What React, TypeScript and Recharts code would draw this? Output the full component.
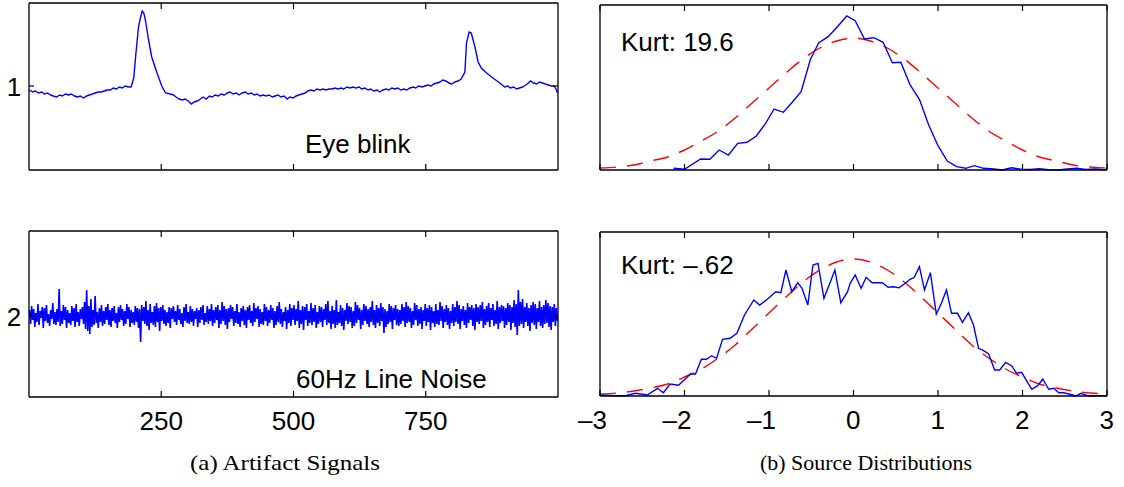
import React from 'react';
import { LineChart, Line, XAxis, YAxis } from 'recharts';

// eye blink channel, [sample, amplitude]
const eyeBlink: [number, number][] = [
  [1, -4], [7, -6], [12, -5], [18, -7], [24, -6], [29, -8], [35, -7], [41, -9], [46, -10], [52, -11],
  [58, -9], [63, -10], [69, -8], [75, -9], [80, -8], [86, -10], [92, -11], [97, -10], [103, -12], [109, -10],
  [114, -9], [120, -8], [125, -7], [131, -6], [137, -6], [142, -5], [148, -4], [154, -4], [159, -2], [165, -3],
  [171, -1], [176, -2], [182, 0], [188, -1], [193, -1],
  [198, 8], [202, 32], [207, 59], [211, 69], [214, 75], [217, 73], [220, 66], [226, 46], [232, 29], [242, 13],
  [251, 0], [258, -7],
  [267, -8], [273, -9], [278, -11], [284, -13], [290, -14], [295, -13], [301, -15], [307, -18], [312, -16], [318, -15],
  [324, -13], [329, -11], [335, -13], [341, -10], [346, -11], [352, -9], [358, -10], [363, -8], [369, -9], [375, -7],
  [380, -6], [386, -8], [392, -7], [397, -9], [403, -7], [409, -6], [414, -8], [420, -7], [426, -9], [431, -8],
  [437, -10], [443, -9], [448, -10], [454, -9], [460, -11], [465, -10], [471, -9], [476, -11], [482, -10], [488, -13],
  [493, -11], [499, -12], [505, -10], [510, -9], [516, -8], [522, -7], [527, -5], [533, -4], [539, -5], [544, -3],
  [550, -4], [556, -3], [561, -4], [567, -3], [573, -3], [578, -2], [584, -3], [590, -2], [595, -3], [601, -1],
  [607, -2], [612, -1], [618, -2], [624, -1], [629, -3], [635, -2], [641, -4], [646, -3], [652, -5], [658, -4],
  [663, -6], [669, -4], [675, -3], [680, -4], [686, -2], [692, -3], [697, -2], [703, -4], [709, -3], [714, -4],
  [720, -2], [726, -1], [731, -2], [737, 0], [743, -1], [748, 0], [754, 1], [760, 0], [765, 2], [771, 3],
  [777, 4], [782, 6], [788, 5], [794, 3], [799, 2], [805, 4], [811, 5], [817, 7],
  [824, 14], [827, 43], [832, 54], [836, 53], [843, 39], [849, 24], [855, 18], [865, 13], [877, 8], [890, 3],
  [899, -1], [905, 0], [910, -2], [916, -1], [922, -3], [927, -2], [933, -1], [939, 1], [944, 3], [948, 5],
  [954, 3], [960, 2], [965, 4], [971, 3], [976, 2], [982, 1], [988, 0], [993, 0], [997, -4], [999, -7],
];

// 60Hz line noise channel, one value every 2 samples
const lineNoise = [
  6, -8, 10, -4, 7, -11, 3, -6, 12, -9, 5, -2, 9, -12, 8, -5, 11, -7, 2, -10, 6, -3, 13, -8, 4,
  -9, 7, -6, 27, -10, 5, -8, 11, -4, 9, -12, 6, -7, 3, -9, 10, -5, 8, -11, 12, -6, 4, -10, 7, -3,
  9, -8, 14, -13, 26, -15, 10, -18, 17, -11, 6, -9, 20, -7, 4, -12, 8, -6, 11, -10, 5, -8, 9, -4, 12,
  -9, 6, -11, 8, -5, 10, -7, 3, -12, 9, -6, 11, -4, 7, -10, 5, -8, 12, -3, 9, -11, 6, -7, 4, -9,
  10, -6, 8, -12, 7, -26, 11, -5, 9, -8, 15, -10, 6, -14, 12, -7, 4, -9, 10, -11, 13, -6, 8, -15, 9,
  -5, 11, -8, 6, -10, 4, -7, 9, -12, 8, -3, 10, -6, 5, -9, 11, -4, 7, -8, 3, -11, 9, -5, 12, -7,
  4, -8, 10, -6, 7, -10, 5, -3, 8, -11, 6, -7, 9, -4, 11, -9, 3, -6, 10, -8, 7, -5, 12, -10, 6,
  -7, 9, -4, 11, -12, 6, -8, 14, -5, 10, -9, 7, -13, 8, -6, 11, -3, 9, -10, 5, -7, 12, -8, 4, -11,
  8, -5, 10, -9, 6, -12, 9, -4, 11, -7, 5, -10, 13, -6, 8, -3, 10, -11, 7, -8, 4, -9, 12, -5, 9,
  -10, 6, -7, 11, -4, 8, -12, 5, -9, 10, -6, 14, -8, 7, -11, 4, -5, 9, -13, 6, -7, 12, -10, 8, -4,
  11, -9, 7, -5, 15, -12, 6, -8, 10, -14, 9, -4, 12, -10, 5, -7, 13, -9, 8, -6, 11, -12, 4, -8, 10,
  -6, 9, -11, 7, -4, 12, -9, 15, -7, 5, -13, 10, -8, 6, -12, 16, -9, 4, -7, 11, -10, 8, -14, 6, -5,
  13, -8, 10, -6, 9, -12, 5, -10, 14, -7, 11, -4, 8, -13, 6, -9, 12, -5, 10, -8, 7, -11, 9, -6, 15,
  -9, 6, -12, 11, -7, 8, -10, 13, -5, 9, -17, 7, -11, 5, -8, 12, -6, 10, -13, 8, -4, 11, -9, 7, -10,
  6, -8, 12, -5, 9, -11, 14, -7, 10, -6, 8, -12, 5, -9, 13, -4, 11, -10, 7, -8, 9, -13, 6, -5, 12,
  -10, 8, -6, 11, -14, 9, -7, 5, -11, 12, -8, 6, -9, 14, -5, 10, -12, 7, -6, 11, -9, 8, -13, 5, -7,
  12, -10, 9, -6, 15, -8, 11, -13, 7, -5, 10, -9, 6, -12, 13, -7, 9, -4, 11, -10, 8, -14, 12, -6, 9,
  -8, 11, -5, 14, -12, 7, -9, 10, -6, 13, -11, 8, -4, 12, -10, 6, -8, 15, -13, 9, -7, 11, -5, 10, -12,
  8, -9, 13, -6, 11, -14, 9, -7, 16, -11, 12, -19, 26, -10, 14, -8, 17, -12, 9, -6, 13, -10, 8, -15, 11,
  -7, 14, -9, 12, -13, 8, -6, 15, -10, 9, -12, 11, -8, 16, -7, 13, -11, 10, -14, 9, -6, 12, -10, 8, -5,
];

// source histograms
const kurtHighX = [
  -2.13, -2.0, -1.81, -1.7, -1.59, -1.48, -1.37, -1.26, -1.15, -1.04,
  -0.94, -0.83, -0.73, -0.62, -0.51, -0.41, -0.3, -0.19, -0.08, 0.02,
  0.13, 0.24, 0.35, 0.46, 0.56, 0.67, 0.78, 0.89, 1.0, 1.11,
  1.22, 1.33, 1.43, 1.54, 1.66, 1.76, 1.87, 1.98, 2.09, 2.2,
  2.31, 2.42, 2.53, 2.64, 2.75, 2.86, 2.97, 3.0,
];
const kurtHighY = [
  1.7, 0.7, 11, 10.7, 20, 15, 26.7, 27.7, 34, 46.7,
  61, 57.7, 67.3, 78.3, 110.7, 127.3, 133.3, 143.3, 154, 149.3,
  131, 132.3, 127.7, 107.3, 107.7, 85, 70.7, 45, 24.3, 9,
  3.3, 1.7, 4.3, 1.7, 1, 0, 2.3, 0.7, 0.5, 1.3,
  0.3, 0, 1, 1.7, 0.5, 1, 0.3, 1,
];
const kurtLowX = [
  -2.99, -2.82, -2.7, -2.58, -2.44, -2.32, -2.25, -2.17, -2.07, -1.93,
  -1.87, -1.8, -1.74, -1.68, -1.62, -1.55, -1.46, -1.38, -1.29, -1.18,
  -1.11, -1.02, -0.92, -0.86, -0.8, -0.73, -0.66, -0.61, -0.54, -0.48,
  -0.42, -0.35, -0.28, -0.22, -0.15, -0.07, -0.04, 0.02, 0.09, 0.15,
  0.22, 0.34, 0.41, 0.47, 0.54, 0.62, 0.67, 0.72, 0.78, 0.84,
  0.91, 0.98, 1.04, 1.1, 1.16, 1.23, 1.29, 1.36, 1.42, 1.48,
  1.54, 1.6, 1.67, 1.73, 1.8, 1.87, 1.93, 1.99, 2.06, 2.11,
  2.18, 2.24, 2.31, 2.37, 2.43, 2.49, 2.56, 2.63, 2.69, 2.77,
  3.0,
];
const kurtLowY = [
  1, 0.3, 0.3, 2.7, 1, 7.7, 3.3, 12, 10.7, 22,
  22, 36.7, 36.7, 40.3, 37.7, 56.7, 57.7, 62.7, 81, 96,
  91, 96.7, 104.3, 103.3, 126, 104.3, 113.3, 107.7, 91, 131,
  132.7, 97.7, 112.7, 126, 93.3, 104.3, 112.7, 121, 107.7, 118.7,
  113.3, 113.3, 108.7, 109.3, 108.3, 113.3, 116.7, 118.7, 129.3, 106,
  123.3, 82, 92.7, 106, 82.7, 82.7, 73.7, 83.3, 71, 47.7,
  45.3, 42, 26, 26, 33.7, 30.3, 22.7, 23.7, 13.7, 6.7,
  10.3, 17, 6.7, 7.7, 3.3, 3.3, 1.7, 0, 2.7, 0.3,
  0.3,
];

// fitted normal curves (red dashed)
const gaussX = [
  -3, -2.8, -2.6, -2.4, -2.2, -2, -1.8, -1.6, -1.4, -1.2, -1, -0.8, -0.6, -0.4, -0.2, 0,
  0.2, 0.4, 0.6, 0.8, 1, 1.2, 1.4, 1.6, 1.8, 2, 2.2, 2.4, 2.6, 2.8, 3,
];
const gaussHighY = [
  2, 3, 5, 9, 13, 20, 29, 39, 52, 67, 82, 97, 111, 122, 129, 132,
  129, 122, 111, 97, 82, 67, 52, 39, 29, 20, 13, 9, 5, 3, 2,
];
const gaussLowY = [
  2, 3, 5, 8, 12, 19, 27, 38, 51, 67, 83, 99, 114, 126, 134, 137,
  134, 126, 114, 99, 83, 67, 51, 38, 27, 19, 12, 8, 5, 3, 2,
];

const signalTicks = [250, 500, 750];
const distTicks = [-3, -2, -1, 0, 1, 2, 3];
const channelNames = ['1', '2'];

const FONT = '"Liberation Sans", Arial, Helvetica, sans-serif';
const SERIF = '"Liberation Serif", "Times New Roman", serif';
const BLUE = '#0000ff';
const RED = '#ff0000';
const frame = { stroke: '#000', strokeWidth: 1.3 };
const tickLn = { stroke: '#000', strokeWidth: 1.2 };

const blinkData = eyeBlink.map(([t, v]) => ({ t, v }));
const noiseData = lineNoise.map((v, i) => ({ t: i * 2 + 1, v }));
const zip = (xs: number[], ys: number[]) => xs.map((x, i) => ({ x, y: ys[i] }));
const highData = zip(kurtHighX, kurtHighY);
const lowData = zip(kurtLowX, kurtLowY);
const gaussHigh = zip(gaussX, gaussHighY);
const gaussLow = zip(gaussX, gaussLowY);

const NoTick = () => <g />;

const SignalTick = ({ x, y, payload }: any) => (
  <text x={x} y={y + 33} textAnchor="middle" fontSize={26} fontFamily={FONT} fill="#000">
    {payload.value}
  </text>
);

const DistTick = ({ x, y, payload }: any) => {
  const v = payload.value;
  const label = v < 0 ? '\u2013' + -v : String(v);
  return (
    <text x={x + 7} y={y + 33} textAnchor="end" fontSize={26} fontFamily={FONT} fill="#000">
      {label}
    </text>
  );
};

const channelTick = (name: string) => ({ x, y }: any) => (
  <text x={x} y={y + 10} textAnchor="middle" fontSize={26} fontFamily={FONT} fill="#000">
    {name}
  </text>
);

// one panel of the left column (time series)
const SignalPanel = ({ data, top, domain, name, labels, width }: any) => (
  <div style={{ position: 'absolute', left: 0, top }}>
    <LineChart width={562} height={labels ? 214 : 174} data={data} margin={{ top: 0, right: 0, bottom: 0, left: 0 }}>
      <XAxis xAxisId="b" dataKey="t" type="number" domain={[0, 1000]} ticks={signalTicks} interval={0}
        height={labels ? 45 : 4} axisLine={frame} tickLine={tickLn} tickSize={-6} tickMargin={6}
        tick={labels ? SignalTick : NoTick} />
      <XAxis xAxisId="t" orientation="top" dataKey="t" type="number" domain={[0, 1000]} ticks={signalTicks}
        interval={0} height={3} axisLine={frame} tickLine={tickLn} tickSize={-6} tick={NoTick} />
      <YAxis yAxisId="l" dataKey="v" type="number" domain={domain} ticks={[0]} width={29} axisLine={frame}
        tickLine={tickLn} tickSize={-5} tickMargin={20} tick={channelTick(name)} />
      <YAxis yAxisId="r" orientation="right" dataKey="v" type="number" domain={domain} ticks={[0]} width={4}
        axisLine={frame} tickLine={tickLn} tickSize={-5} tick={NoTick} />
      <Line xAxisId="b" yAxisId="l" dataKey="v" type="linear" stroke={BLUE} strokeWidth={width} dot={false}
        isAnimationActive={false} />
      <Line xAxisId="t" yAxisId="r" dataKey="v" type="linear" stroke="none" dot={false} isAnimationActive={false} />
    </LineChart>
  </div>
);

// one panel of the right column (distribution vs normal fit)
const DistPanel = ({ hist, fit, top, ymax, labels }: any) => (
  <div style={{ position: 'absolute', left: 570, top }}>
    <LineChart width={549} height={labels ? 212 : 172} margin={{ top: 0, right: 0, bottom: 0, left: 0 }}>
      <XAxis xAxisId="b" dataKey="x" type="number" domain={[-3, 3]} ticks={distTicks} interval={0}
        height={labels ? 45 : 4} axisLine={frame} tickLine={tickLn} tickSize={-6} tickMargin={6}
        tick={labels ? DistTick : NoTick} />
      <XAxis xAxisId="t" orientation="top" dataKey="x" type="number" domain={[-3, 3]} ticks={distTicks}
        interval={0} height={3} axisLine={frame} tickLine={tickLn} tickSize={-6} tick={NoTick} />
      <YAxis yAxisId="l" dataKey="y" type="number" domain={[0, ymax]} width={30} axisLine={frame}
        tickLine={false} tick={false} />
      <YAxis yAxisId="r" orientation="right" dataKey="y" type="number" domain={[0, ymax]} width={12}
        axisLine={frame} tickLine={false} tick={false} />
      <Line data={fit} xAxisId="b" yAxisId="l" dataKey="y" type="monotone" stroke={RED} strokeWidth={1.4}
        strokeDasharray="16 11" dot={false} isAnimationActive={false} />
      <Line data={hist} xAxisId="b" yAxisId="l" dataKey="y" type="linear" stroke={BLUE} strokeWidth={1.4}
        dot={false} isAnimationActive={false} />
      <Line data={hist} xAxisId="t" yAxisId="r" dataKey="y" type="linear" stroke="none" dot={false}
        isAnimationActive={false} />
    </LineChart>
  </div>
);

const txt = { fontSize: 26, fontFamily: FONT, fill: '#000' };
const cap = { fontSize: 21, fontFamily: SERIF, fill: '#000', lengthAdjust: 'spacingAndGlyphs' as const };

export default function App() {
  return (
    <div style={{ position: 'absolute', left: 0, top: 0, width: 1124, height: 487, background: '#fff' }}>
      <SignalPanel data={blinkData} top={0} domain={[-84, 83]} name={channelNames[0]} labels={false} width={1.4} />
      <SignalPanel data={noiseData} top={228} domain={[-81, 85]} name={channelNames[1]} labels width={1.6} />
      <DistPanel hist={highData} fit={gaussHigh} top={2} ymax={165} labels={false} />
      <DistPanel hist={lowData} fit={gaussLow} top={229} ymax={164} labels />
      <svg width={1124} height={487} style={{ position: 'absolute', left: 0, top: 0, pointerEvents: 'none' }}>
        <text x={305} y={153} {...txt}>Eye blink</text>
        <text x={296} y={388} {...txt}>60Hz Line Noise</text>
        <text x={621} y={51} {...txt}>Kurt: 19.6</text>
        <text x={621} y={274} {...txt}>{'Kurt: \u2013.62'}</text>
        <text x={190} y={470} textLength={190} {...cap}>(a) Artifact Signals</text>
        <text x={760} y={470} textLength={212} {...cap}>(b) Source Distributions</text>
      </svg>
    </div>
  );
}
